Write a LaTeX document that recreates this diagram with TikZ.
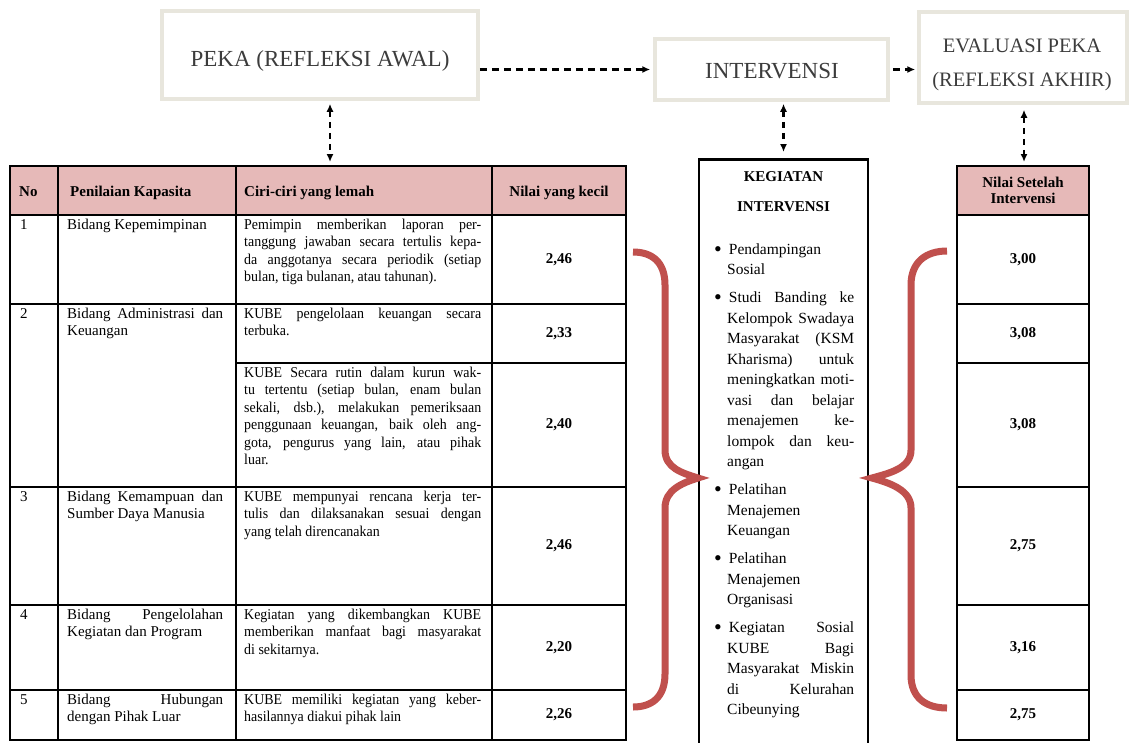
\documentclass[tikz,border=0pt]{standalone}
\usepackage{fontspec}
\setmainfont{Liberation Serif}
\usepackage{xcolor}
\usetikzlibrary{arrows.meta}
\definecolor{headpink}{RGB}{230,185,184}
\definecolor{bracered}{RGB}{192,80,77}
\definecolor{boxedge}{RGB}{232,230,221}
\definecolor{toptext}{RGB}{60,60,60}
\newfontfamily\narrowserif[FakeStretch=0.93]{Liberation Serif}
\newcommand{\cellfont}{\fontsize{15}{17.5}\selectfont}
\newcommand{\ciriFont}{\narrowserif\fontsize{15}{17.5}\selectfont}
\newcommand{\headfont}{\fontsize{15}{17.5}\selectfont\bfseries}
\newcommand{\topfont}{\fontsize{23}{27}\selectfont}
\newcommand{\actfont}{\fontsize{15.5}{20.5}\selectfont}
\newcommand{\bigdot}{\raisebox{-1.6pt}{\fontsize{22}{20}\selectfont\textbullet}}
\tolerance=9000
\hbadness=10000

\begin{document}
\begin{tikzpicture}[
    x=1pt, y=-1pt,
    >={Latex[length=8pt, width=7pt]},
    stage/.style={draw=boxedge, line width=3.5pt, fill=white, inner sep=0pt},
    toplabel/.style={text=toptext, font=\topfont, inner sep=0pt, align=center},
    flow/.style={->, line width=2.5pt, dash pattern=on 7pt off 5pt},
    link/.style={<->, line width=2.5pt, dash pattern=on 6pt off 5pt},
    tabline/.style={line width=2pt},
    cell/.style={anchor=north west, inner sep=0pt, font=\cellfont, align=justify},
    hcell/.style={anchor=base west, inner sep=0pt, font=\headfont},
    score/.style={inner sep=0pt, font=\headfont},
    curly/.style={draw=bracered, line width=7pt}
]
    \useasboundingbox (0,0) rectangle (1129,742);
    \fill[white] (0,0) rectangle (1129,742);

    % Stages
    \node[stage, minimum width=316pt, minimum height=88pt] (peka) at (320,55) {};
    \node[toplabel] (pekatext) at (320,61) {PEKA (REFLEKSI AWAL)};

    \node[stage, minimum width=233pt, minimum height=61pt] (intervensi) at (771.5,69.5) {};
    \node[toplabel] (intervtext) at (772,71) {INTERVENSI};

    \node[stage, minimum width=208pt, minimum height=91pt] (evaluasi) at (1023,57.5) {};
    \node[toplabel, font=\fontsize{20.5}{34}\selectfont] (evaltext) at (1022,65) {EVALUASI PEKA\\(REFLEKSI AKHIR)};

    % Flow between stages
    \draw[flow, shorten >=3pt] (peka.east |- intervensi.west) -- (intervensi.west);
    \draw[flow, shorten <=3pt, shorten >=2pt] (intervensi.east) -- (intervensi.east -| evaluasi.west);

    % Left table
    \fill[headpink] (10,166) rectangle (626,215);
    \draw[tabline] (10,166) rectangle (626,740);
    \foreach \y in {215,304,487,605,690}
        \draw[tabline] (10,\y) -- (626,\y);
    \draw[tabline] (236,363) -- (626,363);
    \foreach \x in {58,236,492}
        \draw[tabline] (\x,166) -- (\x,740);

    \node[hcell] (hno) at (19,196) {No};
    \node[hcell] (hbidang) at (70,196) {Penilaian Kapasita};
    \node[hcell] (hciri) at (244,196) {Ciri-ciri yang lemah};
    \node[score, anchor=base] (hnilai) at (559,196) {Nilai yang kecil};

    % Row 1
    \node[cell] (no1) at (20,217) {\strut 1};
    \node[cell, text width=156pt] (bidang1) at (67,217) {\strut Bidang Kepemimpinan};
    \node[cell, font=\ciriFont, text width=237pt] (ciri1) at (244,217) {\strut Pemimpin memberikan laporan per-\linebreak tanggung jawaban secara tertulis kepa-\linebreak da anggotanya secara periodik (setiap\linebreak bulan, tiga bulanan, atau tahunan).};
    \node[score] (nilai1) at (559,259.5) {2,46};

    % Row 2
    \node[cell] (no2) at (20,306) {\strut 2};
    \node[cell, text width=156pt] (bidang2) at (67,306) {\strut Bidang Administrasi dan\linebreak Keuangan};
    \node[cell, font=\ciriFont, text width=237pt] (ciri2a) at (244,306) {\strut KUBE pengelolaan keuangan secara\linebreak terbuka.};
    \node[score] (nilai2a) at (559,333.5) {2,33};
    \node[cell, font=\ciriFont, text width=237pt] (ciri2b) at (244,365) {\strut KUBE Secara rutin dalam kurun wak-\linebreak tu tertentu (setiap bulan, enam bulan\linebreak sekali, dsb.), melakukan pemeriksaan\linebreak penggunaan keuangan, baik oleh ang-\linebreak gota, pengurus yang lain, atau pihak\linebreak luar.};
    \node[score] (nilai2b) at (559,425) {2,40};

    % Row 3
    \node[cell] (no3) at (20,489) {\strut 3};
    \node[cell, text width=156pt] (bidang3) at (67,489) {\strut Bidang Kemampuan dan\linebreak Sumber Daya Manusia};
    \node[cell, font=\ciriFont, text width=237pt] (ciri3) at (244,489) {\strut KUBE mempunyai rencana kerja ter-\linebreak tulis dan dilaksanakan sesuai dengan\linebreak yang telah direncanakan};
    \node[score] (nilai3) at (559,546) {2,46};

    % Row 4
    \node[cell] (no4) at (20,607) {\strut 4};
    \node[cell, text width=156pt] (bidang4) at (67,607) {\strut Bidang Pengelolahan\linebreak Kegiatan dan Program};
    \node[cell, font=\ciriFont, text width=237pt] (ciri4) at (244,607) {\strut Kegiatan yang dikembangkan KUBE\linebreak memberikan manfaat bagi masyarakat\linebreak di sekitarnya.};
    \node[score] (nilai4) at (559,647.5) {2,20};

    % Row 5
    \node[cell] (no5) at (20,692) {\strut 5};
    \node[cell, text width=156pt] (bidang5) at (67,692) {\strut Bidang Hubungan\linebreak dengan Pihak Luar};
    \node[cell, font=\ciriFont, text width=237pt] (ciri5) at (244,692) {\strut KUBE memiliki kegiatan yang keber-\linebreak hasilannya diakui pihak lain};
    \node[score] (nilai5) at (559,715) {2,26};

    % Activities
    \node[draw, line width=2.5pt, minimum width=169pt, minimum height=592pt, anchor=north, inner sep=0pt] (kegbox) at (783.5,158) {};
    \node[font=\fontsize{15}{18}\selectfont\bfseries, align=center, inner sep=0pt] (kegtitle) at (783.5,192) {KEGIATAN\\[12pt]INTERVENSI};
    \node[cell, font=\actfont, text width=140pt] (kegiatan) at (714,233.7) {%
        \begin{list}{\bigdot}{\setlength{\leftmargin}{13pt}\setlength{\labelwidth}{6pt}%
            \setlength{\labelsep}{7pt}\setlength{\itemsep}{7.5pt}\setlength{\parsep}{0pt}%
            \setlength{\topsep}{0pt}\setlength{\partopsep}{0pt}}
        \item \strut Pendampingan\newline Sosial
        \item Studi Banding ke\linebreak Kelompok Swadaya\linebreak Masyarakat (KSM\linebreak Kharisma) untuk\linebreak meningkatkan moti-\linebreak vasi dan belajar\linebreak menajemen ke-\linebreak lompok dan keu-\linebreak angan
        \item Pelatihan\newline Menajemen\newline Keuangan
        \item Pelatihan\newline Menajemen\newline Organisasi
        \item Kegiatan Sosial\linebreak KUBE Bagi\linebreak Masyarakat Miskin\linebreak di Kelurahan\linebreak Cibeunying
        \end{list}};

    % Right table
    \fill[headpink] (957,166) rectangle (1089,215);
    \draw[tabline] (957,166) rectangle (1089,740);
    \foreach \y in {215,304,363,487,605,690}
        \draw[tabline] (957,\y) -- (1089,\y);
    \node[score, align=center, font=\fontsize{15}{16}\selectfont\bfseries] (rhead) at (1023,190) {Nilai Setelah\\Intervensi};
    \node[score] (hasil1) at (1023,259.5) {3,00};
    \node[score] (hasil2a) at (1023,333.5) {3,08};
    \node[score] (hasil2b) at (1023,425) {3,08};
    \node[score] (hasil3) at (1023,546) {2,75};
    \node[score] (hasil4) at (1023,647.5) {3,16};
    \node[score] (hasil5) at (1023,715) {2,75};

    % Links to stages
    \coordinate (pekadrop) at (330,166);
    \coordinate (evaldrop) at (1024,166);
    \draw[link, shorten <=3pt, shorten >=4pt] (peka.south -| pekadrop) -- (pekadrop);
    \draw[link, shorten <=2pt, shorten >=6pt] (kegbox.north |- intervensi.south) -- (kegbox.north);
    \draw[link, shorten <=5pt, shorten >=4pt] (evaluasi.south -| evaldrop) -- (evaldrop);

    % Braces
    \draw[curly] (633,252) .. controls (652,252) and (665,262) .. (665,285) -- (665,450)
        .. controls (665,468) and (682,473) .. (698,478)
        .. controls (682,483) and (665,490) .. (665,508) -- (665,674)
        .. controls (665,697) and (652,707) .. (633,707);
    \draw[curly] (947,251) .. controls (926,251) and (911,262) .. (911,285) -- (911,450)
        .. controls (911,468) and (890,473) .. (872,478)
        .. controls (890,483) and (911,490) .. (911,508) -- (911,675)
        .. controls (911,698) and (926,708) .. (947,708);
\end{tikzpicture}
\end{document}
